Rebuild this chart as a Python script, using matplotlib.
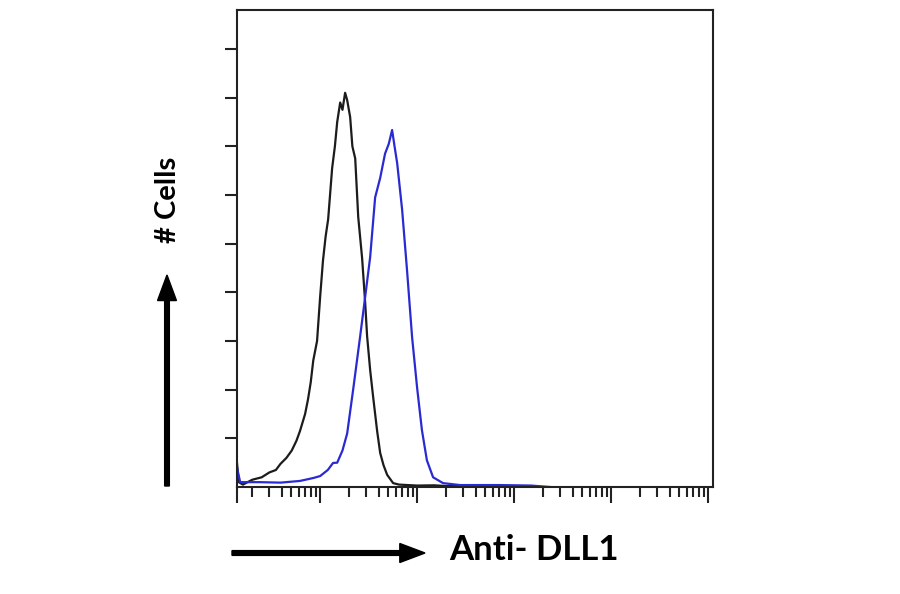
import matplotlib
matplotlib.use("Agg")
import matplotlib.pyplot as plt
from matplotlib.patches import FancyArrow
from matplotlib.ticker import FixedLocator, LogLocator, NullFormatter

plt.rcParams["font.family"] = ["Lato", "DejaVu Sans"]

# isotype control (black) histogram, intensity vs. cell count
control_x = [1.39, 1.45, 1.6, 2.0, 2.5, 3.0, 3.5, 3.9, 4.5, 5.1, 5.7, 6.2, 7.0, 7.5,
             8.0, 8.5, 9.3, 10.0, 10.7, 11.4, 12.1, 13.3, 14.2, 15.0, 16.1, 17.0,
             18.1, 19.0, 20.4, 21.5, 23.0, 24.7, 27.1, 29.1, 30.5, 32.8, 35.2, 38.7,
             41.6, 45.0, 49.1, 56.6, 65, 80, 100, 150, 200, 300, 400, 500]
control_y = [10, 2, 1, 3, 4, 6, 7, 9.5, 12, 15, 19, 23, 30, 36, 43, 52, 60, 78, 93,
             103, 110, 131, 140, 150, 158, 155, 162, 159, 152, 140, 135, 111, 94, 76,
             62, 48, 37, 23, 14, 9, 5, 1.6, 1, 0.8, 0.6, 0.7, 0.4, 0.6, 0.3, 0]

# Anti-DLL1 stained (blue) histogram
dll1_x = [1.39, 1.5, 2.4, 3.9, 6.2, 8.5, 10.0, 12.0, 13.6, 15.0, 17.0, 19.0, 21.9,
          25.8, 29.1, 32.8, 36.9, 41.6, 46.7, 51.0, 55.2, 58.5, 62.3, 70.0, 78.7,
          88.7, 99.8, 112, 126, 146, 185, 277, 714, 1500, 2360]
dll1_y = [8, 2, 2, 1.8, 2.5, 3.7, 4.5, 7, 9.9, 10, 15, 22, 40, 61.6, 78, 94.5,
          119, 127, 137, 141, 146.7, 140, 133, 114, 89, 61.6, 41, 23.4, 11, 4, 1.6,
          0.8, 0.8, 0.6, 0]

x_decades = [10, 100, 1000, 10000, 100000]
y_ticks = [20, 40, 60, 80, 100, 120, 140, 160, 180]
x_range = (1.39, 112000)
y_range = (0, 196)

fig = plt.figure(figsize=(9, 5.94), dpi=100)
ax = fig.add_axes([0.2633, 0.1801, 0.5289, 0.8030])

ax.plot(control_x, control_y, color="#1c1c1c", lw=1.6)
ax.plot(dll1_x, dll1_y, color="#2a2ad2", lw=1.6)

ax.set_xscale("log")
ax.set_xlim(*x_range)
ax.set_ylim(*y_range)

ax.xaxis.set_major_locator(FixedLocator([x_range[0]] + x_decades))
ax.xaxis.set_minor_locator(LogLocator(base=10, subs=range(2, 10), numticks=20))
ax.xaxis.set_major_formatter(NullFormatter())
ax.xaxis.set_minor_formatter(NullFormatter())
ax.set_yticks(y_ticks)
ax.set_yticklabels([])

ax.tick_params(axis="x", which="major", direction="out", length=11.5, width=1.5, color="#222")
ax.tick_params(axis="x", which="minor", direction="out", length=7, width=1.5, color="#222")
ax.tick_params(axis="y", which="major", direction="out", length=8.6, width=1.5, color="#222")

for s in ax.spines.values():
    s.set_color("#222")
    s.set_linewidth(1.5)

# axis arrows and labels drawn in figure coordinates
fig.patches.append(FancyArrow(
    167 / 900, 1 - 486 / 594, 0, (486 - 275) / 594, width=0.0052,
    head_width=0.021, head_length=0.043, length_includes_head=True,
    color="black", transform=fig.transFigure))
fig.patches.append(FancyArrow(
    232 / 900, 1 - 553 / 594, (425 - 232) / 900, 0, width=0.008,
    head_width=0.032, head_length=0.028, length_includes_head=True,
    color="black", transform=fig.transFigure))

fig.text(168 / 900, 1 - 200 / 594, "# Cells", rotation=90, ha="center", va="center",
         fontsize=21, fontweight="bold")
fig.text(449 / 900, 1 - 550 / 594, "Anti- DLL1", ha="left", va="center",
         fontsize=25, fontweight="bold")

fig.savefig("out.png", dpi=100, facecolor="white")
